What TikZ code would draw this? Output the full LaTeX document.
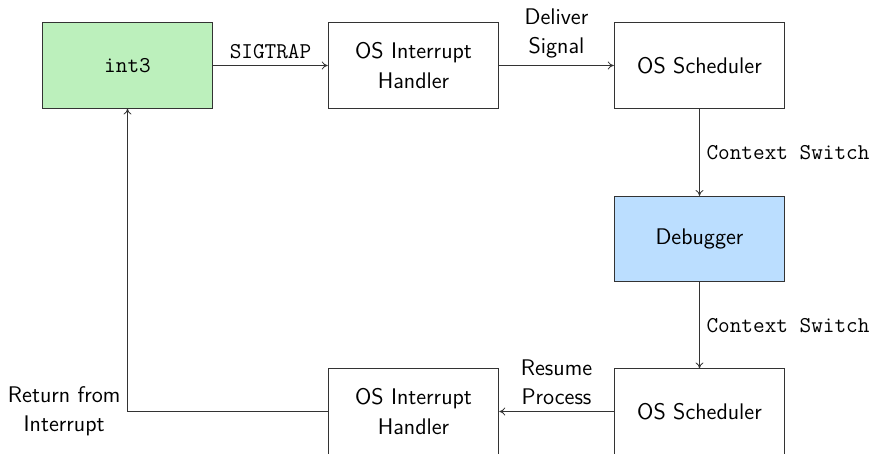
\documentclass[tikz,border=0pt]{standalone}
\usetikzlibrary{arrows.meta}
\definecolor{boxgreen}{RGB}{188,240,188}
\definecolor{boxblue}{RGB}{187,222,255}
\newcommand{\picsize}{\fontsize{11.3pt}{14.6pt}\selectfont}
\begin{document}
\begin{tikzpicture}[x=0.5pt,y=-0.5pt,
  every node/.style={font=\picsize},
  stage/.style={draw=black!80, minimum width=3cm, minimum height=1.5cm,
    font=\picsize\sffamily, align=center, inner sep=0pt},
  flow/.style={draw=black!80, -{To[length=3pt,width=4pt]}},
  lbl/.style={font=\picsize\sffamily, align=center},
  mono/.style={font=\picsize\ttfamily}]
\useasboundingbox (0,0) rectangle (871,454);
% processing stages
\node[stage, fill=boxgreen, font=\picsize\ttfamily] (trap) at (127.5,65.5) {int3};
\node[stage] (ihtop) at (413.5,65.5) {OS Interrupt\\Handler};
\node[stage] (schedtop) at (699.5,65.5) {OS Scheduler};
\node[stage, fill=boxblue] (dbg) at (699.5,239) {Debugger};
\node[stage] (schedbot) at (699.5,411.5) {OS Scheduler};
\node[stage] (ihbot) at (413.5,411.5) {OS Interrupt\\Handler};
\coordinate (corner) at (trap.south |- ihbot.west);
% transitions
\draw[flow] (trap) -- node[above, mono] {SIGTRAP} (ihtop);
\draw[flow] (ihtop) -- node[above, lbl] {Deliver\\Signal} (schedtop);
\draw[flow] (schedtop) -- node[right, mono] {Context Switch} (dbg);
\draw[flow] (dbg) -- node[right, mono] {Context Switch} (schedbot);
\draw[flow] (schedbot) -- node[above, lbl] {Resume\\Process} (ihbot);
\draw[flow] (ihbot.west) -- (corner) node[left, lbl] {Return from\\Interrupt} -- (trap.south);
\end{tikzpicture}
\end{document}
